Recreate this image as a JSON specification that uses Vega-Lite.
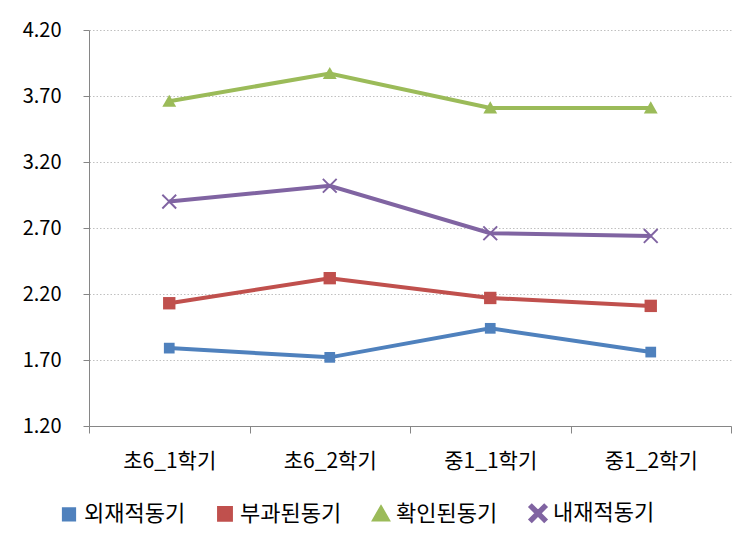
{
  "$schema": "https://vega.github.io/schema/vega-lite/v6.json",
  "width": 642,
  "height": 396,
  "autosize": "none",
  "padding": {"left": 89, "top": 30, "right": 21, "bottom": 119},
  "background": "white",
  "config": {
    "font": "Noto Sans CJK KR",
    "view": {"stroke": null},
    "legend": {
      "title": null, "orient": "none", "legendX": -31, "legendY": 472,
      "direction": "horizontal", "columns": 4, "columnPadding": 25,
      "labelFontSize": 22, "labelColor": "#000000", "labelOffset": 4,
      "symbolSize": 1600, "symbolStrokeWidth": 3.5
    }
  },
  "data": {
    "values": [
      {"term": "초6_1학기", "series": "외재적동기", "value": 1.79},
      {"term": "초6_2학기", "series": "외재적동기", "value": 1.72},
      {"term": "중1_1학기", "series": "외재적동기", "value": 1.94},
      {"term": "중1_2학기", "series": "외재적동기", "value": 1.76},
      {"term": "초6_1학기", "series": "부과된동기", "value": 2.13},
      {"term": "초6_2학기", "series": "부과된동기", "value": 2.32},
      {"term": "중1_1학기", "series": "부과된동기", "value": 2.17},
      {"term": "중1_2학기", "series": "부과된동기", "value": 2.11},
      {"term": "초6_1학기", "series": "확인된동기", "value": 3.66},
      {"term": "초6_2학기", "series": "확인된동기", "value": 3.87},
      {"term": "중1_1학기", "series": "확인된동기", "value": 3.61},
      {"term": "중1_2학기", "series": "확인된동기", "value": 3.61},
      {"term": "초6_1학기", "series": "내재적동기", "value": 2.90},
      {"term": "초6_2학기", "series": "내재적동기", "value": 3.02},
      {"term": "중1_1학기", "series": "내재적동기", "value": 2.66},
      {"term": "중1_2학기", "series": "내재적동기", "value": 2.64}
    ]
  },
  "encoding": {
    "x": {
      "field": "term", "type": "nominal", "sort": null,
      "scale": {"paddingInner": 0, "paddingOuter": 0},
      "axis": {
        "title": null, "labelAngle": 0, "labelFontSize": 21, "labelColor": "#000000",
        "tickBand": "extent", "tickSize": 7, "tickColor": "#868686", "domainColor": "#868686",
        "labelPadding": 17, "grid": false
      }
    },
    "y": {
      "field": "value", "type": "quantitative",
      "scale": {"domain": [1.2, 4.2], "nice": false, "zero": false},
      "axis": {
        "title": null, "values": [1.2, 1.7, 2.2, 2.7, 3.2, 3.7, 4.2], "format": ".2f",
        "labelFontSize": 20, "labelColor": "#000000", "labelPadding": 22,
        "tickSize": 6, "tickColor": "#868686", "domainColor": "#868686",
        "grid": true, "gridColor": "#c0c0c0", "gridDash": [1.5, 2], "gridWidth": 1
      }
    }
  },
  "layer": [
    {
      "mark": {"type": "line", "strokeWidth": 4},
      "encoding": {
        "color": {
          "field": "series", "type": "nominal",
          "scale": {"domain": ["외재적동기", "부과된동기", "확인된동기", "내재적동기"],
                    "range": ["#4F81BD", "#C0504D", "#9BBB59", "#8064A2"]}
        }
      }
    },
    {
      "mark": {"type": "point", "filled": true, "opacity": 1},
      "encoding": {
        "color": {
          "field": "series", "type": "nominal",
          "scale": {"domain": ["외재적동기", "부과된동기", "확인된동기", "내재적동기"],
                    "range": ["#4F81BD", "#C0504D", "#9BBB59", "#8064A2"]}
        },
        "shape": {
          "field": "series", "type": "nominal",
          "scale": {"domain": ["외재적동기", "부과된동기", "확인된동기", "내재적동기"],
                    "range": ["M-1,-1H1V1H-1Z", "M-1,-1H1V1H-1Z", "M0,-0.95L1,0.8L-1,0.8Z", "M-1,-0.82L-0.82,-1L0,-0.18L0.82,-1L1,-0.82L0.18,0L1,0.82L0.82,1L0,0.18L-0.82,1L-1,0.82L-0.18,0Z"]}
        },
        "size": {
          "field": "series", "type": "nominal",
          "scale": {"domain": ["외재적동기", "부과된동기", "확인된동기", "내재적동기"],
                    "range": [115, 230, 290, 180]}
        }
      }
    }
  ]
}
